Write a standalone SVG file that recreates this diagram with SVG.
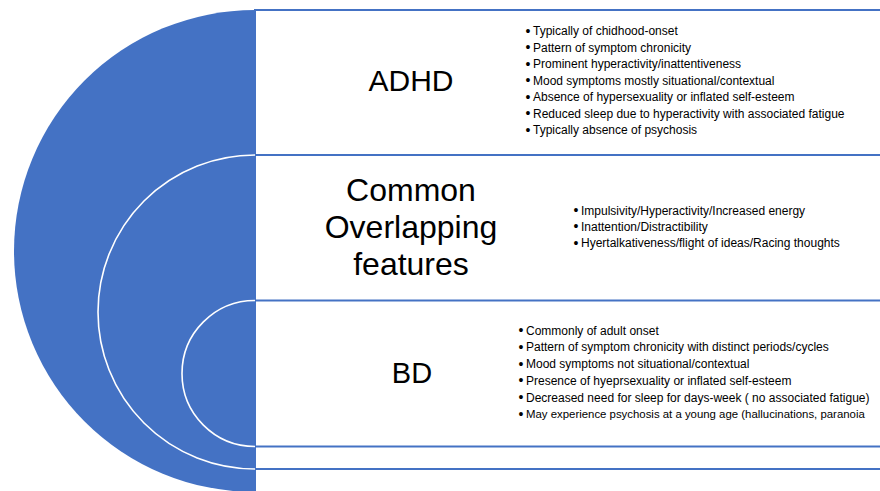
<svg xmlns="http://www.w3.org/2000/svg" width="880" height="491" viewBox="0 0 880 491">
<style>
.box{fill:#fff;stroke:#4472C4;stroke-width:2}
.disk{fill:#4472C4;stroke:none}
.arc{fill:#4472C4;stroke:#fff;stroke-width:1.6}
.h{font-family:"Liberation Sans",Arial,sans-serif;fill:#000;text-anchor:middle}
.b{font-family:"Liberation Sans",Arial,sans-serif;font-size:12px;fill:#000}
.dot{font-family:"Liberation Sans",Arial,sans-serif;font-size:14px;fill:#000;text-anchor:middle}
</style>
<rect width="880" height="491" fill="#fff"/>
<g id="adhd-box"><rect class="box" x="255" y="10" width="660" height="500"/></g>
<g id="common-box"><rect class="box" x="255" y="155" width="660" height="314"/></g>
<g id="bd-box"><rect class="box" x="255" y="300.5" width="660" height="146"/></g>
<g id="target">
<path class="disk" d="M255,10 A241,241 0 0 0 255,492 Z"/>
<path class="arc" d="M255,155 A157,157 0 0 0 255,469"/>
<path class="arc" d="M255,300.5 A73,73 0 0 0 255,446.5"/>
</g>
<g id="adhd">
<text class="h" x="411" y="91" font-size="30">ADHD</text>
<g class="dot"><text x="528" y="35.5">•</text><text x="528" y="52">•</text><text x="528" y="68.5">•</text><text x="528" y="85">•</text><text x="528" y="101.5">•</text><text x="528" y="118">•</text><text x="528" y="134.5">•</text></g>
<text class="b" x="533" y="35">Typically of chidhood-onset</text>
<text class="b" x="533" y="51.5">Pattern of symptom chronicity</text>
<text class="b" x="533" y="68">Prominent hyperactivity/inattentiveness</text>
<text class="b" x="533" y="84.5">Mood symptoms mostly situational/contextual</text>
<text class="b" x="533" y="101">Absence of hypersexuality or inflated self-esteem</text>
<text class="b" x="533" y="117.5">Reduced sleep due to hyperactivity with associated fatigue</text>
<text class="b" x="533" y="134">Typically absence of psychosis</text>
</g>
<g id="common">
<text class="h" x="411" y="201" font-size="32">Common</text>
<text class="h" x="411" y="238" font-size="32">Overlapping</text>
<text class="h" x="411" y="275" font-size="32">features</text>
<g class="dot"><text x="576" y="215">•</text><text x="576" y="231">•</text><text x="576" y="247.5">•</text></g>
<text class="b" x="581" y="214.5">Impulsivity/Hyperactivity/Increased energy</text>
<text class="b" x="581" y="230.5">Inattention/Distractibility</text>
<text class="b" x="581" y="247">Hyertalkativeness/flight of ideas/Racing thoughts</text>
</g>
<g id="bd">
<text class="h" x="412" y="383" font-size="29">BD</text>
<g class="dot"><text x="521" y="335">•</text><text x="521" y="351.8">•</text><text x="521" y="368.5">•</text><text x="521" y="385.3">•</text><text x="521" y="402.1">•</text><text x="521" y="418.9">•</text></g>
<text class="b" x="526" y="334.5">Commonly of adult onset</text>
<text class="b" x="526" y="351.3">Pattern of symptom chronicity with distinct periods/cycles</text>
<text class="b" x="526" y="368">Mood symptoms not situational/contextual</text>
<text class="b" x="526" y="384.8">Presence of hyeprsexuality or inflated self-esteem</text>
<text class="b" x="526" y="401.6">Decreased need for sleep for days-week ( no associated fatigue)</text>
<text class="b" x="526" y="418.4" style="font-size:11.4px">May experience psychosis at a young age (hallucinations, paranoia</text>
</g>
</svg>
